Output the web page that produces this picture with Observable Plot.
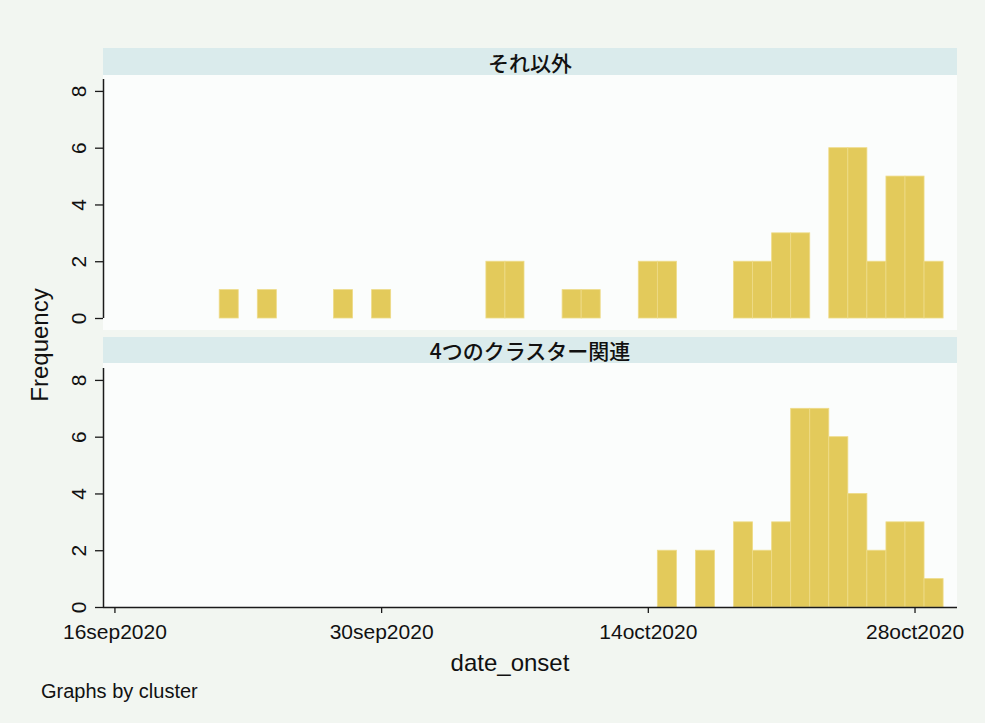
<!DOCTYPE html>
<html>
<head>
<meta charset="utf-8">
<script src="https://cdn.jsdelivr.net/npm/d3@7"></script>
<script src="https://cdn.jsdelivr.net/npm/@observablehq/plot@0.6"></script>
<style>
  html, body { margin: 0; padding: 0; }
  body { width: 985px; height: 723px; background: #F2F6F1; position: relative; overflow: hidden;
         font-family: "Liberation Sans", Arial, sans-serif; color: #111; }
  .abs { position: absolute; }
  .region { background: #FBFDFC; }
  .strip { background: #DAEBEC; display: flex; align-items: center; justify-content: center;
           font-family: "Noto Sans CJK JP", sans-serif; font-size: 21px; font-weight: 500; color: #111; }
</style>
</head>
<body>
<div class="abs region" style="left:103px;top:75px;width:854px;height:255px"></div>
<div class="abs region" style="left:103px;top:363px;width:854px;height:244px"></div>
<div id="strip1" class="abs strip" style="left:103px;top:48px;width:854px;height:27px"></div>
<div id="strip2" class="abs strip" style="left:103px;top:337px;width:854px;height:26px"></div>
<div id="p1" class="abs" style="left:0;top:75px"></div>
<div id="p2" class="abs" style="left:0;top:363px"></div>
<div id="ylab" class="abs" style="left:40px;top:345px;font-size:24px;transform:translate(-50%,-50%) rotate(-90deg);white-space:nowrap"></div>
<div id="xlab" class="abs" style="left:510px;top:663px;font-size:24px;transform:translate(-50%,-50%);white-space:nowrap"></div>
<div id="note" class="abs" style="left:41px;top:680px;font-size:20px;white-space:nowrap"></div>
<script>
// ---- data ----
const panelTitles = ["それ以外", "4つのクラスター関連"];
const otherDates = ["2020-09-22","2020-09-24","2020-09-28","2020-09-30","2020-10-06","2020-10-07",
  "2020-10-10","2020-10-11","2020-10-14","2020-10-15","2020-10-19","2020-10-20","2020-10-21",
  "2020-10-22","2020-10-24","2020-10-25","2020-10-26","2020-10-27","2020-10-28","2020-10-29"];
const otherCounts = [1,1,1,1,2,2,1,1,2,2,2,2,3,3,6,6,2,5,5,2];
const clusterDates = ["2020-10-15","2020-10-17","2020-10-19","2020-10-20","2020-10-21","2020-10-22",
  "2020-10-23","2020-10-24","2020-10-25","2020-10-26","2020-10-27","2020-10-28","2020-10-29"];
const clusterCounts = [2,2,3,2,3,7,7,6,4,2,3,3,1];
const xTickDates = ["2020-09-16","2020-09-30","2020-10-14","2020-10-28"];
const yTicks = [0,2,4,6,8];
const yLabel = "Frequency";
const xLabel = "date_onset";
const note = "Graphs by cluster";

// ---- build ----
const parse = s => new Date(s + "T00:00:00Z");
const toRows = (dates, counts) => dates.map((d, i) => ({date: parse(d), count: counts[i]}));
const otherRows = toRows(otherDates, otherCounts);
const clusterRows = toRows(clusterDates, clusterCounts);
const xTicks = xTickDates.map(parse);
const DAY = 864e5;
const x0 = parse("2020-09-16");
const xDomain = [new Date(+x0 - 0.6 * DAY), new Date(+x0 + 44.23 * DAY)];
const yTop = 8.42;
const barColor = "#E3CA5B";
const ink = "#1a1a1a";
const fmt = d => d3.utcFormat("%d%b%Y")(d).toLowerCase();

function panel(rows, withX) {
  const marks = [
    Plot.rectY(rows, {
      x1: d => new Date(+d.date - DAY / 2),
      x2: d => new Date(+d.date + DAY / 2),
      y: "count", fill: barColor, stroke: "#EEDB88", strokeWidth: 0.8
    }),
    Plot.ruleX([xDomain[0]], {stroke: ink, strokeWidth: 1.5}),
    Plot.axisY({ticks: yTicks, tickSize: 8, tickPadding: 10, tickRotate: -90,
      label: null, fontSize: 21, stroke: ink, strokeWidth: 1.3, fill: "#111"})
  ];
  if (withX) {
    marks.push(Plot.ruleY([0], {stroke: ink, strokeWidth: 1.5}));
    marks.push(Plot.axisX({ticks: xTicks, tickFormat: fmt, tickSize: 6, tickPadding: 11,
      label: null, fontSize: 21, stroke: ink, strokeWidth: 1.3, fill: "#111"}));
  }
  return Plot.plot({
    width: 985,
    height: withX ? 290 : 255,
    marginLeft: 103,
    marginRight: 28,
    marginTop: withX ? 5 : 4,
    marginBottom: withX ? 46 : 12,
    style: {background: "transparent", fontFamily: "'Liberation Sans', Arial, sans-serif", color: "#111", overflow: "visible"},
    x: {type: "utc", domain: xDomain, axis: withX ? undefined : null},
    y: {domain: [0, yTop]},
    marks
  });
}

document.getElementById("strip1").textContent = panelTitles[0];
document.getElementById("strip2").textContent = panelTitles[1];
document.getElementById("p1").appendChild(panel(otherRows, false));
document.getElementById("p2").appendChild(panel(clusterRows, true));
document.getElementById("ylab").textContent = yLabel;
document.getElementById("xlab").textContent = xLabel;
document.getElementById("note").textContent = note;
</script>
</body>
</html>
